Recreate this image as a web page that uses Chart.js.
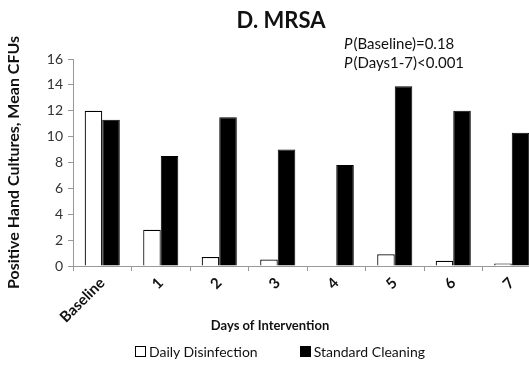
<!DOCTYPE html>
<html>
<head>
<meta charset="utf-8">
<script src="https://cdn.jsdelivr.net/npm/chart.js@4.4.0/dist/chart.umd.min.js"></script>
<style>
  html, body { margin: 0; padding: 0; background: #fff; overflow: hidden; }
  #wrap { width: 580px; height: 365px; position: relative; }
  #legend { position: absolute; left: 135px; top: 343px; display: flex; gap: 42px;
            font: 14px Lato, "Open Sans", sans-serif; color: #111; }
  #legend span.item { display: flex; align-items: center; }
  #legend span.box { display: inline-block; width: 9px; height: 9px; border: 1px solid #000; margin-right: 3px; }
</style>
</head>
<body>
<div id="wrap">
  <canvas id="mrsaChart" width="580" height="365"></canvas>
  <div id="legend"></div>
</div>
<script>
// categories and series
const categories = ['Baseline', '1', '2', '3', '4', '5', '6', '7'];
const dailyDisinfection = [12.0, 2.8, 0.7, 0.5, 0, 0.9, 0.4, 0.2];
const standardCleaning = [11.3, 8.5, 11.5, 9.0, 7.8, 13.9, 12.0, 10.3];
const yTicks = [0, 2, 4, 6, 8, 10, 12, 14, 16];

const fontFam = 'Lato, "Open Sans", sans-serif';

// chart title, x title and the P-value notes
const extraText = {
    id: 'extraText',
    afterDraw(chart) {
        const ctx = chart.ctx;
        ctx.save();
        ctx.fillStyle = '#111';
        ctx.textBaseline = 'middle';

        ctx.textAlign = 'center';
        ctx.font = 'bold 22px ' + fontFam;
        ctx.fillText('D. MRSA', 281, 21);
        ctx.font = 'bold 13px ' + fontFam;
        ctx.fillText('Days of Intervention', 270, 326);

        ctx.textAlign = 'left';
        const lines = [['(Baseline)=0.18', 344, 44], ['(Days1-7)<0.001', 344, 63]];
        lines.forEach(([rest, x, y]) => {
            ctx.font = 'italic 15px ' + fontFam;
            ctx.fillText('P', x, y);
            let w = ctx.measureText('P').width;
            ctx.font = '15px ' + fontFam;
            ctx.fillText(rest, x + w + 1, y);
        });
        ctx.restore();
    }
};

// legend built from the datasets, as html under the chart
const htmlLegend = {
    id: 'htmlLegend',
    afterUpdate(chart) {
        const box = document.getElementById('legend');
        box.innerHTML = '';
        chart.data.datasets.forEach(ds => {
            let item = document.createElement('span');
            item.className = 'item';
            let sw = document.createElement('span');
            sw.className = 'box';
            sw.style.background = ds.backgroundColor;
            item.appendChild(sw);
            item.appendChild(document.createTextNode(ds.label));
            box.appendChild(item);
        });
    }
};

let ctx = document.getElementById('mrsaChart').getContext('2d');
new Chart(ctx, {
    type: 'bar',
    data: {
        labels: categories,
        datasets: [
            {
                label: 'Daily Disinfection',
                data: dailyDisinfection,
                backgroundColor: '#ffffff',
                borderColor: '#000000',
                borderWidth: 1.2
            },
            {
                label: 'Standard Cleaning',
                data: standardCleaning,
                backgroundColor: '#000000',
                borderColor: '#000000',
                borderWidth: 1
            }
        ]
    },
    options: {
        responsive: false,
        animation: false,
        layout: { padding: { left: 4, right: 39, top: 59, bottom: 30 } },
        datasets: { bar: { categoryPercentage: 0.6, barPercentage: 1.0 } },
        plugins: {
            title: { display: false },
            legend: { display: false },
            tooltip: { enabled: false }
        },
        scales: {
            x: {
                grid: { display: true, drawOnChartArea: false, offset: true, tickLength: 5, color: '#999' },
                border: { color: '#999' },
                ticks: {
                    color: '#111',
                    maxRotation: 45,
                    minRotation: 45,
                    font: { family: fontFam, size: 15, weight: 'bold' }
                },
                afterFit: axis => { axis.height = 69; }
            },
            y: {
                min: 0,
                max: 16,
                afterBuildTicks: axis => { axis.ticks = yTicks.map(v => ({ value: v })); },
                grid: { display: true, drawOnChartArea: false, tickLength: 5, color: '#999' },
                border: { color: '#999' },
                ticks: {
                    color: '#333',
                    padding: 5,
                    font: { family: fontFam, size: 14 }
                },
                title: {
                    display: true,
                    text: 'Positive Hand Cultures, Mean CFUs',
                    color: '#111',
                    font: { family: fontFam, size: 16, weight: 'bold' },
                    padding: { top: 0, bottom: 6 }
                },
                afterFit: axis => { axis.width = 69; }
            }
        }
    },
    plugins: [extraText, htmlLegend]
});
</script>
</body>
</html>
